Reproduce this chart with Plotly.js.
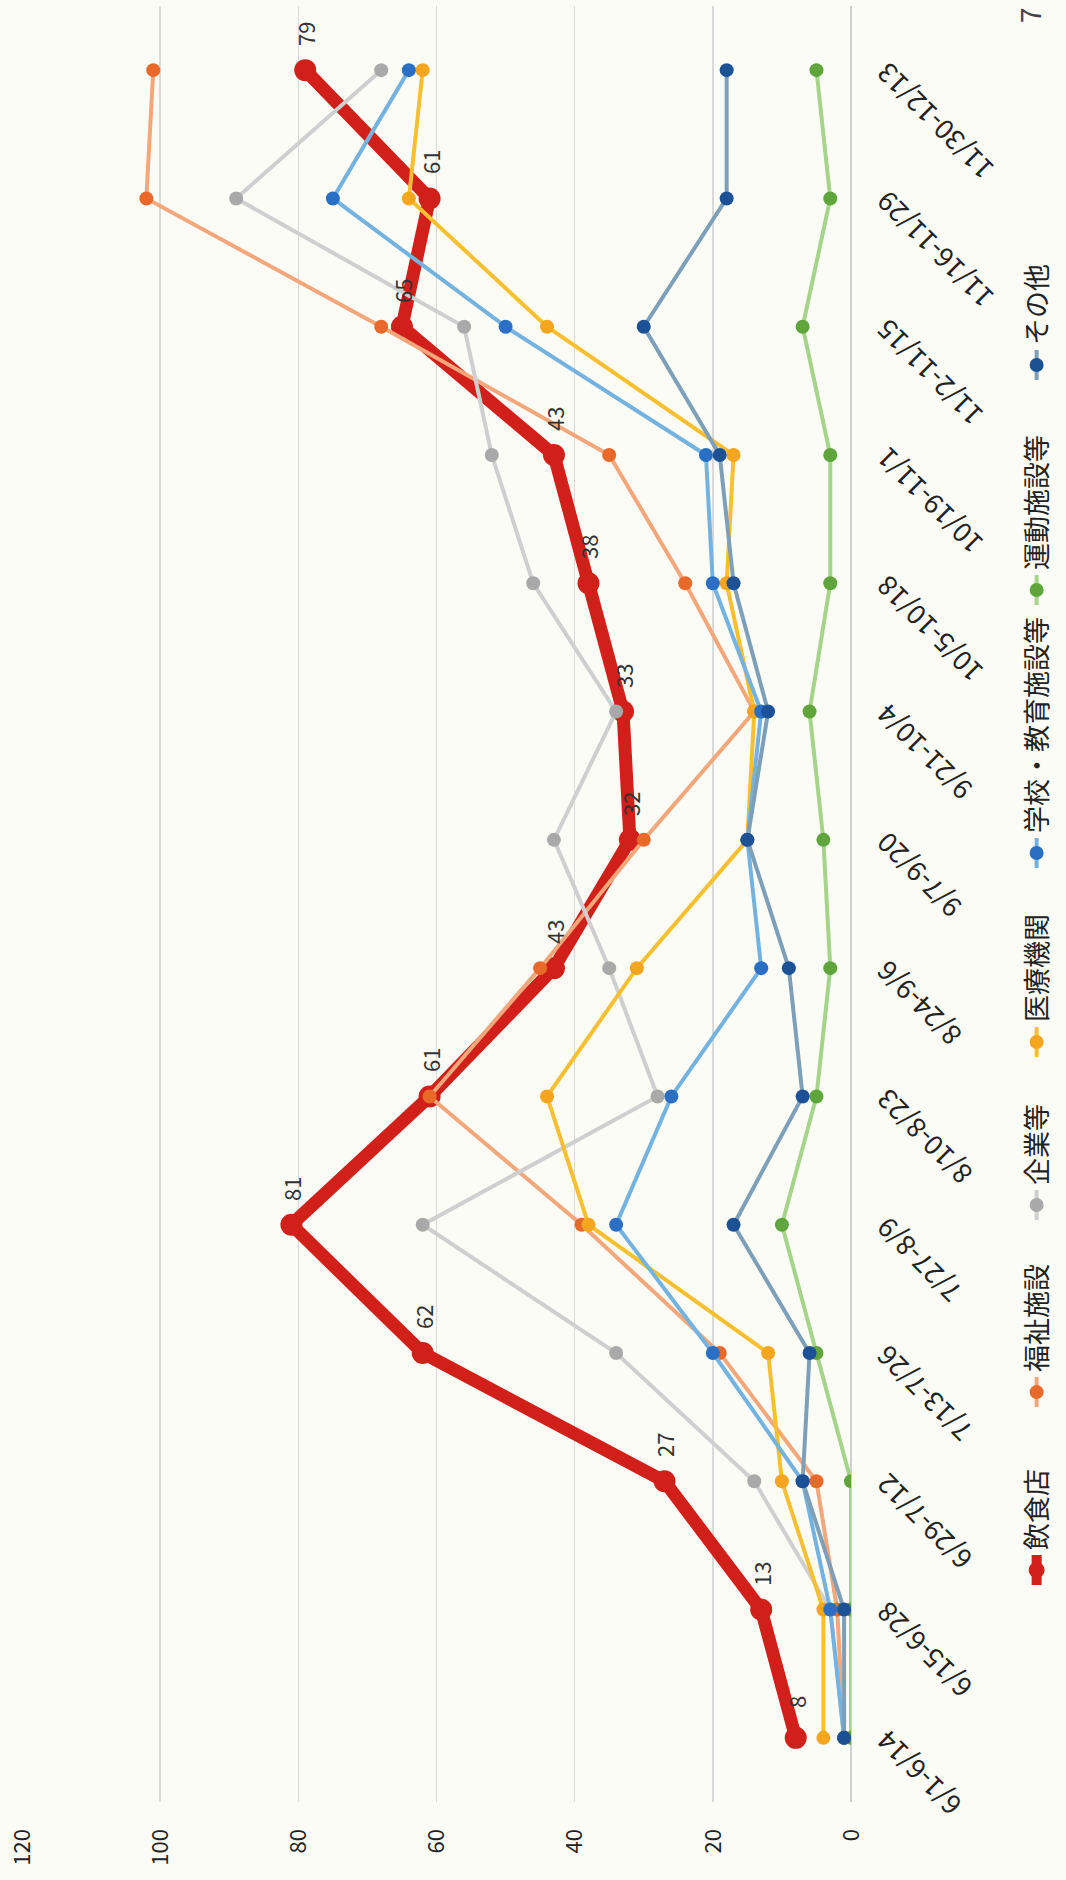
<!DOCTYPE html>
<html>
<head>
<meta charset="utf-8">
<script src="https://cdn.plot.ly/plotly-3.0.1.min.js"></script>
<style>
html,body{margin:0;padding:0;width:1066px;height:1880px;overflow:hidden;background:#fcfcf7;}
#wrap{position:absolute;left:0;top:0;width:1880px;height:1066px;transform-origin:0 0;transform:translateY(1880px) rotate(-90deg);}
#chart{width:1880px;height:1066px;}
</style>
</head>
<body>
<div id="wrap"><div id="chart"></div></div>
<script>
const categories = ['6/1-6/14','6/15-6/28','6/29-7/12','7/13-7/26','7/27-8/9','8/10-8/23','8/24-9/6','9/7-9/20','9/21-10/4','10/5-10/18','10/19-11/1','11/2-11/15','11/16-11/29','11/30-12/13'];
const restaurants = [8,13,27,62,81,61,43,32,33,38,43,65,61,79];
const welfare     = [1,2,5,19,39,61,45,30,14,24,35,68,102,101];
const companies   = [1,3,14,34,62,28,35,43,34,46,52,56,89,68];
const medical     = [4,4,10,12,38,44,31,15,14,18,17,44,64,62];
const schools     = [1,3,7,20,34,26,13,15,13,20,21,50,75,64];
const sports      = [0,0,0,5,10,5,3,4,6,3,3,7,3,5];
const others      = [1,1,7,6,17,7,9,15,12,17,19,30,18,18];
const seriesNames = ['飲食店','福祉施設','企業等','医療機関','学校・教育施設等','運動施設等','その他'];
const valueTicks = [0,20,40,60,80,100,120];

const FONT = 'Noto Sans CJK JP, Liberation Sans, sans-serif';

function small(name, y, lineColor, markerColor, lg){
  return {type:'scatter', mode:'lines+markers', name:name, x:categories, y:y, legend:lg,
    line:{color:lineColor, width:4}, marker:{color:markerColor, size:14}};
}

const traces = [
  {type:'scatter', mode:'lines+markers', name:seriesNames[0], x:categories, y:restaurants, legend:'legend',
   line:{color:'#d1201a', width:13}, marker:{color:'#d1201a', size:22}},
  small(seriesNames[1], welfare, '#f3a77a', '#e8692a', 'legend2'),
  small(seriesNames[2], companies, '#cfcfcf', '#a9a9a9', 'legend3'),
  small(seriesNames[3], medical, '#f8c030', '#f5a51e', 'legend4'),
  small(seriesNames[4], schools, '#74b2e0', '#2a6fc4', 'legend5'),
  small(seriesNames[5], sports, '#a6d48a', '#5fa53c', 'legend6'),
  small(seriesNames[6], others, '#7d9fb8', '#1d5196', 'legend7')
];

const annotations = restaurants.map((v,i)=>({
  x:categories[i], y:v, xref:'x', yref:'y', text:String(v), showarrow:false,
  xanchor:'center', yanchor:'middle', xshift:36,
  font:{family:FONT, size:22, color:'#333333'}
}));
annotations.push({x:0.995, y:-0.2145, xref:'paper', yref:'paper', text:'7', showarrow:false,
  xanchor:'center', yanchor:'middle', font:{family:FONT, size:28, color:'#444444'}});

function lg(x){
  return {orientation:'h', x:x, xanchor:'left', y:-0.223, yanchor:'middle',
    font:{family:FONT, size:27, color:'#222222'}, bgcolor:'rgba(0,0,0,0)'};
}

const layout = {
  width:1880, height:1066,
  margin:{l:78, r:6, t:22, b:214},
  paper_bgcolor:'#fcfcf7', plot_bgcolor:'#fcfcf7',
  font:{family:FONT, color:'#222222'},
  showlegend:true,
  legend:lg(0.118), legend2:lg(0.2171), legend3:lg(0.3213), legend4:lg(0.4120),
  legend5:lg(0.5173), legend6:lg(0.6637), legend7:lg(0.7890),
  xaxis:{type:'category', range:[-0.5,13.5], showgrid:false, showline:false, zeroline:false,
    tickangle:-45, tickfont:{family:FONT, size:27, color:'#222222'}, ticks:'', ticklabelstandoff:14},
  yaxis:{range:[0,120], tickvals:valueTicks, showgrid:true, gridcolor:'#dadada', gridwidth:1.5,
    zeroline:true, zerolinecolor:'#cfcfcf', zerolinewidth:2, showline:false, ticks:'',
    tickfont:{family:FONT, size:22, color:'#222222'}, ticklabelstandoff:26},
  annotations:annotations
};

Plotly.newPlot('chart', traces, layout, {staticPlot:true, displayModeBar:false});
</script>
</body>
</html>
